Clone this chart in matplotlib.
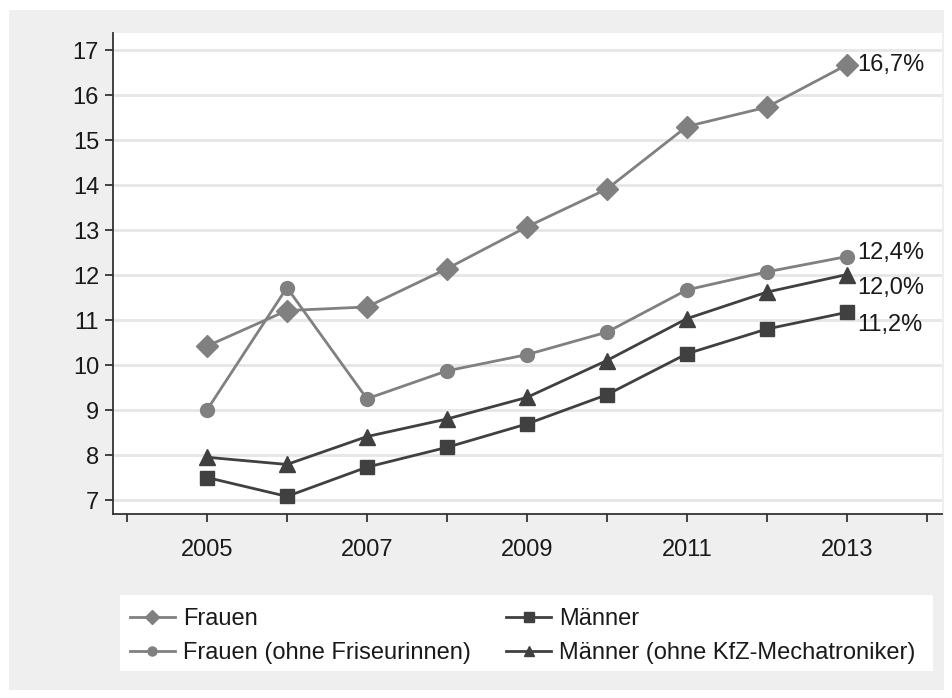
import matplotlib
matplotlib.use("Agg")
import matplotlib.pyplot as plt
from matplotlib.patches import Rectangle

plt.rcParams['font.family'] = ['Liberation Sans', 'DejaVu Sans']

years = [2005, 2006, 2007, 2008, 2009, 2010, 2011, 2012, 2013]
frauen = [10.42, 11.21, 11.29, 12.14, 13.07, 13.91, 15.30, 15.73, 16.67]
frauen_ohne = [9.00, 11.72, 9.25, 9.87, 10.23, 10.73, 11.67, 12.07, 12.41]
maenner = [7.50, 7.08, 7.73, 8.17, 8.69, 9.34, 10.25, 10.80, 11.17]
maenner_ohne = [7.95, 7.79, 8.41, 8.80, 9.28, 10.10, 11.03, 11.62, 12.01]
end_labels = ["16,7%", "12,4%", "12,0%", "11,2%"]
yticks = list(range(7, 18))
xticks_all = list(range(2004, 2015))
xtick_labels = [str(y) if y in (2005, 2007, 2009, 2011, 2013) else "" for y in xticks_all]

W, H = 952, 698
FS = 17
fig = plt.figure(figsize=(W / 100, H / 100), dpi=100, facecolor='white')
fig.patches.append(Rectangle((9 / W, 8 / H), (944 - 9) / W, (688 - 8) / H,
                             transform=fig.transFigure, facecolor='#efefef',
                             edgecolor='none', zorder=-10))
fig.patches.append(Rectangle((120 / W, 1 - 671 / H), (933 - 120) / W, (671 - 595) / H,
                             transform=fig.transFigure, facecolor='white',
                             edgecolor='none', zorder=-5))

ax = fig.add_axes([113 / W, 1 - 514 / H, (942 - 113) / W, (514 - 33) / H])
ax.set_facecolor('white')

light = '#808080'
dark = '#404040'
ax.plot(years, frauen, color=light, lw=2, marker='D', ms=11, label='Frauen', zorder=3)
ax.plot(years, maenner, color=dark, lw=2, marker='s', ms=10, label='Männer', zorder=3)
ax.plot(years, frauen_ohne, color=light, lw=2, marker='o', ms=10,
        label='Frauen (ohne Friseurinnen)', zorder=3)
ax.plot(years, maenner_ohne, color=dark, lw=2, marker='^', ms=11,
        label='Männer (ohne KfZ-Mechatroniker)', zorder=3)

ends = [frauen[-1], frauen_ohne[-1], maenner_ohne[-1], maenner[-1]]
offs = [0, 4, -13, -13]
for val, lab, off in zip(ends, end_labels, offs):
    ax.annotate(lab, (years[-1], val), xytext=(10, off), textcoords='offset pixels',
                va='center', ha='left', fontsize=FS, color='#1a1a1a')

ax.set_xlim(2003.825, 2014.19)
ax.set_ylim(6.689, 17.378)
ax.set_yticks(yticks)
ax.set_xticks(xticks_all)
ax.set_xticklabels(xtick_labels)
ax.grid(axis='y', color='#e6e6e6', lw=2)
ax.set_axisbelow(True)
for s in ['top', 'right']:
    ax.spines[s].set_visible(False)
for s in ['left', 'bottom']:
    ax.spines[s].set_color('#333333')
    ax.spines[s].set_linewidth(1.3)
ax.tick_params(axis='both', direction='out', length=6, width=1.3, color='#333333',
               labelsize=FS, labelcolor='#1a1a1a')
ax.tick_params(axis='x', pad=12)
ax.tick_params(axis='y', pad=4)

handles, labels = ax.get_legend_handles_labels()
order = [0, 2, 1, 3]
leg = fig.legend([handles[i] for i in order], [labels[i] for i in order],
                 ncol=2, loc='upper left', bbox_to_anchor=(130 / W, 1 - 608 / H),
                 frameon=False, fontsize=FS, handlelength=1.9, handletextpad=0.34,
                 columnspacing=1.5, labelspacing=0.5, markerscale=0.65,
                 borderpad=0, borderaxespad=0)
for t in leg.get_texts():
    t.set_color('#1a1a1a')

fig.savefig('out.png', dpi=100, facecolor=fig.get_facecolor())
